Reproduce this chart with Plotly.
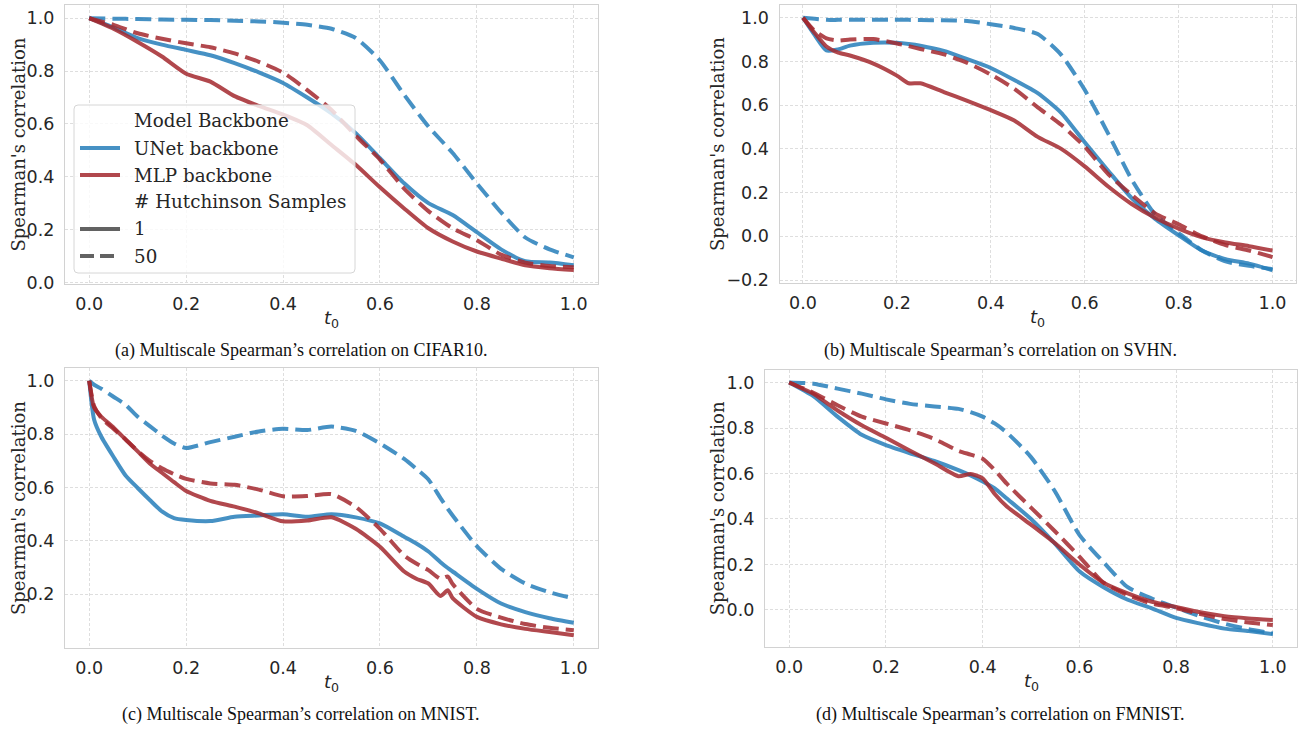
import plotly.graph_objects as go

W, H = 1301, 729

# ---------------- data ----------------
# (a) CIFAR10
t_a = [0, 0.05, 0.1, 0.15, 0.2, 0.25, 0.3, 0.35, 0.4, 0.45, 0.5, 0.55, 0.6, 0.65, 0.7, 0.75, 0.8, 0.85, 0.9, 0.95, 1.0]
unet1_a = [1.0, 0.965, 0.925, 0.9, 0.88, 0.86, 0.83, 0.795, 0.755, 0.7, 0.64, 0.565, 0.47, 0.375, 0.3, 0.255, 0.19, 0.125, 0.08, 0.075, 0.065]
unet50_a = [1.0, 0.998, 0.997, 0.995, 0.994, 0.993, 0.99, 0.988, 0.983, 0.975, 0.96, 0.925, 0.84, 0.71, 0.59, 0.49, 0.375, 0.265, 0.17, 0.125, 0.095]
mlp1_a = [1.0, 0.96, 0.91, 0.855, 0.79, 0.76, 0.705, 0.668, 0.635, 0.595, 0.52, 0.445, 0.36, 0.28, 0.205, 0.155, 0.117, 0.09, 0.065, 0.054, 0.047]
mlp50_a = [1.0, 0.975, 0.943, 0.922, 0.905, 0.89, 0.867, 0.835, 0.794, 0.728, 0.653, 0.555, 0.465, 0.355, 0.27, 0.205, 0.16, 0.105, 0.075, 0.062, 0.057]

# (b) SVHN
t_b = [0, 0.025, 0.05, 0.075, 0.1, 0.15, 0.2, 0.225, 0.25, 0.3, 0.35, 0.4, 0.45, 0.5, 0.55, 0.6, 0.65, 0.7, 0.75, 0.8, 0.85, 0.9, 0.95, 1.0]
unet1_b = [1.0, 0.92, 0.85, 0.855, 0.872, 0.885, 0.885, 0.88, 0.872, 0.848, 0.81, 0.77, 0.715, 0.655, 0.565, 0.43, 0.3, 0.175, 0.08, 0.005, -0.065, -0.105, -0.125, -0.155]
unet50_b = [1.0, 0.995, 0.99, 0.99, 0.99, 0.99, 0.99, 0.99, 0.989, 0.988, 0.985, 0.97, 0.953, 0.925, 0.83, 0.67, 0.47, 0.26, 0.1, 0.015, -0.065, -0.115, -0.135, -0.15]
mlp1_b = [1.0, 0.93, 0.868, 0.84, 0.827, 0.79, 0.735, 0.7, 0.7, 0.66, 0.62, 0.577, 0.53, 0.455, 0.4, 0.32, 0.228, 0.148, 0.085, 0.035, -0.005, -0.028, -0.045, -0.065]
mlp50_b = [1.0, 0.94, 0.905, 0.895, 0.9, 0.902, 0.882, 0.87, 0.857, 0.832, 0.793, 0.74, 0.675, 0.59, 0.51, 0.41, 0.285, 0.19, 0.105, 0.055, 0.0, -0.04, -0.065, -0.095]

# (c) MNIST
t_c = [0, 0.01, 0.025, 0.05, 0.075, 0.1, 0.125, 0.15, 0.175, 0.2, 0.25, 0.3, 0.35, 0.4, 0.45, 0.5, 0.55, 0.6, 0.65, 0.675, 0.7, 0.725, 0.74, 0.75, 0.8, 0.85, 0.9, 0.95, 1.0]
unet1_c = [1.0, 0.855, 0.79, 0.715, 0.645, 0.598, 0.553, 0.51, 0.485, 0.478, 0.474, 0.49, 0.495, 0.5, 0.49, 0.5, 0.488, 0.465, 0.415, 0.39, 0.36, 0.32, 0.298, 0.285, 0.22, 0.165, 0.133, 0.11, 0.093]
unet50_c = [1.0, 0.985, 0.97, 0.94, 0.91, 0.865, 0.83, 0.795, 0.765, 0.748, 0.77, 0.79, 0.81, 0.82, 0.815, 0.828, 0.812, 0.765, 0.707, 0.67, 0.63, 0.56, 0.52, 0.495, 0.38, 0.295, 0.24, 0.207, 0.184]
mlp1_c = [1.0, 0.9, 0.865, 0.825, 0.78, 0.735, 0.69, 0.655, 0.62, 0.587, 0.55, 0.528, 0.503, 0.473, 0.476, 0.488, 0.445, 0.378, 0.285, 0.258, 0.24, 0.193, 0.215, 0.185, 0.115, 0.087, 0.07, 0.058, 0.046]
mlp50_c = [1.0, 0.905, 0.86, 0.82, 0.78, 0.737, 0.7, 0.672, 0.65, 0.632, 0.615, 0.61, 0.592, 0.567, 0.568, 0.575, 0.527, 0.445, 0.345, 0.315, 0.29, 0.258, 0.266, 0.238, 0.145, 0.112, 0.088, 0.074, 0.065]

# (d) FMNIST
t_d = [0, 0.05, 0.1, 0.15, 0.2, 0.25, 0.3, 0.35, 0.375, 0.4, 0.425, 0.45, 0.5, 0.55, 0.6, 0.65, 0.7, 0.75, 0.8, 0.85, 0.9, 0.95, 1.0]
unet1_d = [1.0, 0.94, 0.85, 0.77, 0.725, 0.689, 0.655, 0.615, 0.592, 0.565, 0.535, 0.49, 0.4, 0.29, 0.17, 0.1, 0.045, 0.007, -0.035, -0.06, -0.082, -0.093, -0.106]
unet50_d = [1.0, 0.995, 0.973, 0.951, 0.926, 0.906, 0.895, 0.884, 0.87, 0.85, 0.82, 0.78, 0.672, 0.52, 0.33, 0.21, 0.1, 0.05, 0.01, -0.028, -0.06, -0.085, -0.103]
mlp1_d = [1.0, 0.95, 0.877, 0.812, 0.757, 0.7, 0.645, 0.588, 0.598, 0.579, 0.51, 0.455, 0.375, 0.293, 0.2, 0.12, 0.073, 0.036, 0.013, -0.01, -0.027, -0.037, -0.044]
mlp50_d = [1.0, 0.955, 0.9, 0.85, 0.82, 0.79, 0.752, 0.7, 0.683, 0.665, 0.615, 0.555, 0.45, 0.345, 0.235, 0.12, 0.065, 0.028, 0.008, -0.018, -0.04, -0.055, -0.066]

captions = [
    "(a) Multiscale Spearman\u2019s correlation on CIFAR10.",
    "(b) Multiscale Spearman\u2019s correlation on SVHN.",
    "(c) Multiscale Spearman\u2019s correlation on MNIST.",
    "(d) Multiscale Spearman\u2019s correlation on FMNIST.",
]
legend_labels = ["Model Backbone", "UNet backbone", "MLP backbone", "# Hutchinson Samples", "1", "50"]
x_ticks = [0.0, 0.2, 0.4, 0.6, 0.8, 1.0]

# ---------------- style ----------------
BLUE = "rgba(38,126,186,0.85)"
RED = "rgba(163,40,46,0.85)"
GRAYL = "rgba(70,70,70,0.85)"
DASH = "16px,7px"
LW = 4
TICKFONT = dict(family="DejaVu Sans", size=17.5, color="#262626")
SERIF = "DejaVu Serif"


def fx(px):
    return px / W


def fy(py):
    return 1 - py / H


# panel pixel frames: left, right, top, bottom ; y-range ; y ticks
panels = [
    dict(t=t_a, s=[unet1_a, unet50_a, mlp1_a, mlp50_a], box=(65, 598, 5, 284),
         yr=[-0.006, 1.05], yt=[0.0, 0.2, 0.4, 0.6, 0.8, 1.0], ytx=18, cap=(301, 350)),
    dict(t=t_b, s=[unet1_b, unet50_b, mlp1_b, mlp50_b], box=(779.5, 1296, 5, 283),
         yr=[-0.2135, 1.058], yt=[-0.2, 0.0, 0.2, 0.4, 0.6, 0.8, 1.0], ytx=717, cap=(1000, 350)),
    dict(t=t_c, s=[unet1_c, unet50_c, mlp1_c, mlp50_c], box=(65, 598, 368, 648),
         yr=[-0.0017, 1.0477], yt=[0.2, 0.4, 0.6, 0.8, 1.0], ytx=18, cap=(301, 714)),
    dict(t=t_d, s=[unet1_d, unet50_d, mlp1_d, mlp50_d], box=(765, 1297, 370, 646.6),
         yr=[-0.161, 1.055], yt=[0.0, 0.2, 0.4, 0.6, 0.8, 1.0], ytx=717, cap=(1000, 714)),
]

styles = [(BLUE, "solid"), (BLUE, DASH), (RED, "solid"), (RED, DASH)]

fig = go.Figure()
annotations = []
shapes = []
layout = {}

for i, p in enumerate(panels):
    n = "" if i == 0 else str(i + 1)
    xa, ya = "x" + n, "y" + n
    l, r, tp, bt = p["box"]
    for vals, (col, dash) in zip(p["s"], styles):
        fig.add_trace(go.Scatter(x=p["t"], y=vals, mode="lines", xaxis=xa, yaxis=ya,
                                 line=dict(color=col, width=LW, dash=dash,
                                           shape="spline", smoothing=0.6),
                                 showlegend=False, hoverinfo="skip"))
    common = dict(showgrid=True, gridcolor="#dedede", griddash="3px,2px", gridwidth=1,
                  showline=True, mirror=True, linecolor="#d2d2d2", linewidth=1.2,
                  zeroline=False, ticks="", tickfont=TICKFONT, tickformat=".1f",
                  automargin=False)
    layout["xaxis" + n] = dict(domain=[fx(l), fx(r)], anchor=ya, range=[-0.05, 1.05],
                               tickvals=x_ticks, ticklabelstandoff=4, **common)
    layout["yaxis" + n] = dict(domain=[fy(bt), fy(tp)], anchor=xa, range=p["yr"],
                               tickvals=p["yt"], ticklabelstandoff=6, **common)
    # x title
    annotations.append(dict(x=fx((l + r) / 2), y=fy(bt + 35), xref="paper", yref="paper",
                            text="<i>t</i><sub>0</sub>", showarrow=False,
                            font=dict(family="DejaVu Sans", size=18, color="#262626"),
                            xanchor="center", yanchor="middle"))
    # y title
    annotations.append(dict(x=fx(p["ytx"]), y=fy((tp + bt) / 2), xref="paper", yref="paper",
                            text="Spearman's correlation", textangle=-90, showarrow=False,
                            font=dict(family=SERIF, size=18, color="#262626"),
                            xanchor="center", yanchor="middle"))
    # caption
    annotations.append(dict(x=fx(p["cap"][0]), y=fy(p["cap"][1]), xref="paper", yref="paper",
                            text=captions[i], showarrow=False,
                            font=dict(family="Liberation Serif", size=18, color="#111111"),
                            xanchor="center", yanchor="middle"))

# ---------------- legend (panel a) ----------------
L, R, T, B = 74, 355, 105, 273
rad = 4
path = (f"M {fx(L + rad)},{fy(T)} L {fx(R - rad)},{fy(T)} Q {fx(R)},{fy(T)} {fx(R)},{fy(T + rad)} "
        f"L {fx(R)},{fy(B - rad)} Q {fx(R)},{fy(B)} {fx(R - rad)},{fy(B)} "
        f"L {fx(L + rad)},{fy(B)} Q {fx(L)},{fy(B)} {fx(L)},{fy(B - rad)} "
        f"L {fx(L)},{fy(T + rad)} Q {fx(L)},{fy(T)} {fx(L + rad)},{fy(T)} Z")
shapes.append(dict(type="path", path=path, xref="paper", yref="paper",
                   fillcolor="rgba(255,255,255,0.8)", line=dict(color="#d6d6d6", width=1),
                   layer="above"))
rows = [121, 148, 175, 202, 229, 256]
samples = [None, (BLUE, "solid"), (RED, "solid"), None, (GRAYL, "solid"), (GRAYL, "14px,6px")]
for lab, ry, smp in zip(legend_labels, rows, samples):
    if smp is not None:
        shapes.append(dict(type="line", xref="paper", yref="paper", x0=fx(80), x1=fx(120),
                           y0=fy(ry), y1=fy(ry), layer="above",
                           line=dict(color=smp[0], width=LW, dash=smp[1])))
    annotations.append(dict(x=fx(132), y=fy(ry), xref="paper", yref="paper", text=lab,
                            showarrow=False, xanchor="left", yanchor="middle",
                            font=dict(family=SERIF, size=18.3, color="#262626")))

fig.update_layout(width=W, height=H, margin=dict(l=0, r=0, t=0, b=0),
                  paper_bgcolor="white", plot_bgcolor="white",
                  annotations=annotations, shapes=shapes, **layout)
# remove the browser's default 8px body margin so the figure fills the window exactly
fig.write_html("out.html", config={"displayModeBar": False},
               post_script="document.body.style.margin='0';document.body.style.overflow='hidden';")
